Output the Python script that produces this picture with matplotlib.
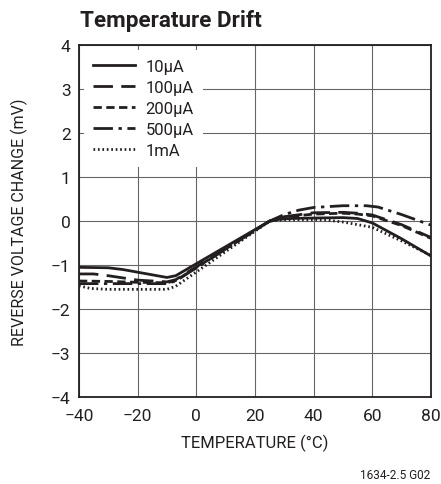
import numpy as np
import matplotlib
matplotlib.use('Agg')
import matplotlib.pyplot as plt

plt.rcParams['font.family'] = ['Roboto', 'DejaVu Sans']
plt.rcParams['font.stretch'] = 'condensed'
ink = '#231f20'

# data (temperature in degC, change in mV)
temp_10 = [-40, -30, -25, -15, -10, -7, 25, 28, 32, 40, 50, 55, 60, 70, 80]
v_10 = [-1.05, -1.06, -1.10, -1.22, -1.28, -1.24, 0.0, 0.04, 0.06, 0.07, 0.08, 0.06, -0.04, -0.40, -0.79]

temp_100 = [-40, -35, -30, -20, -10, -7, 25, 30, 40, 50, 55, 60, 70, 80]
v_100 = [-1.20, -1.20, -1.24, -1.34, -1.38, -1.33, 0.0, 0.10, 0.19, 0.20, 0.18, 0.14, -0.08, -0.37]

temp_200 = [-40, -30, -20, -10, -7, 25, 30, 40, 50, 55, 60, 70, 80]
v_200 = [-1.36, -1.37, -1.39, -1.40, -1.35, 0.0, 0.09, 0.16, 0.18, 0.16, 0.12, -0.10, -0.39]

temp_500 = [-40, -30, -20, -10, -7, 25, 30, 35, 40, 50, 58, 62, 70, 80]
v_500 = [-1.42, -1.42, -1.42, -1.42, -1.36, 0.0, 0.15, 0.25, 0.31, 0.35, 0.35, 0.32, 0.15, -0.09]

temp_1m = [-40, -36, -30, -10, -7, 25, 30, 40, 45, 50, 60, 70, 80]
v_1m = [-1.47, -1.53, -1.55, -1.55, -1.48, 0.0, 0.03, 0.03, 0.02, -0.02, -0.14, -0.45, -0.78]

series = [
    ('10µA', temp_10, v_10, '-'),
    ('100µA', temp_100, v_100, (0, (7, 3))),
    ('200µA', temp_200, v_200, (0, (3, 1.6))),
    ('500µA', temp_500, v_500, (0, (7, 2, 1.2, 2))),
    ('1mA', temp_1m, v_1m, (0, (0.6, 1.0))),
]

xticks = [-40, -20, 0, 20, 40, 60, 80]
xticklabels = ['\u221240', '\u221220', '0', '20', '40', '60', '80']
yticks = [-4, -3, -2, -1, 0, 1, 2, 3, 4]
yticklabels = ['\u22124', '\u22123', '\u22122', '\u22121', '0', '1', '2', '3', '4']

fig = plt.figure(figsize=(4.41, 4.85), dpi=100)
ax = fig.add_axes([0.179, 0.179, 0.798, 0.726])

for label, t, v, ls in series:
    ax.plot(t, v, color=ink, linestyle=ls, linewidth=2.0, label=label,
            solid_joinstyle='round', dash_joinstyle='round')

ax.set_xlim(-40, 80)
ax.set_ylim(-4, 4)
ax.set_xticks(xticks)
ax.set_xticklabels(xticklabels)
ax.set_yticks(yticks)
ax.set_yticklabels(yticklabels)
ax.tick_params(length=0, labelsize=12.5, colors=ink)
ax.tick_params(axis='x', pad=8)
ax.tick_params(axis='y', pad=6)
ax.grid(True, color='#666666', linewidth=0.8)
ax.set_axisbelow(True)
for s in ax.spines.values():
    s.set_color(ink)
    s.set_linewidth(1.3)

xl = ax.set_xlabel('TEMPERATURE (°C)', fontsize=12, color=ink, va='center')
ax.xaxis.set_label_coords(0.5, -0.128)
yl = ax.set_ylabel('REVERSE VOLTAGE CHANGE (mV)', fontsize=11.5, color=ink, va='center')
ax.yaxis.set_label_coords(-0.17, 0.5)

leg = ax.legend(loc='upper left', frameon=True, fontsize=12, handlelength=2.5,
                handletextpad=0.65, labelspacing=0.36, borderaxespad=0.3,
                borderpad=0.55, fancybox=False)
leg.get_frame().set_facecolor('white')
leg.get_frame().set_edgecolor('none')
leg.get_frame().set_alpha(1.0)
for txt in leg.get_texts():
    txt.set_color(ink)

fig.text(0.181, 0.944, 'Temperature Drift', fontsize=16.2, fontweight='bold', color=ink)
fig.text(0.975, 0.0186, '1634-2.5 G02', fontsize=8.5, color=ink, ha='right', va='center')

fig.savefig('out.png', dpi=100)
